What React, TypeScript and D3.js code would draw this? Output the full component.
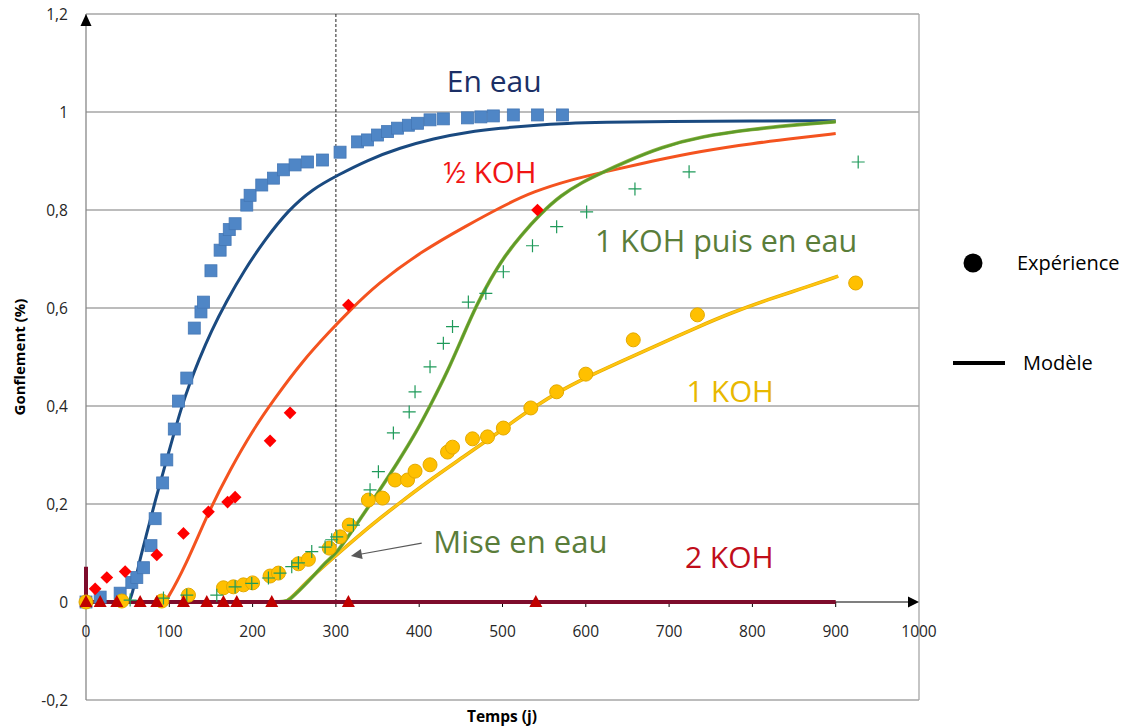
import React from "react";
import * as d3 from "d3";

type P = [number, number];

// Experimental points (x = days, y = swelling %)
const enEauExp: P[] = [
  [0, 0], [17, 0.01], [41, 0.018], [55, 0.04], [61, 0.05], [69, 0.07], [78, 0.115], [83, 0.17],
  [92, 0.243], [97, 0.29], [106, 0.353], [111, 0.41], [121, 0.457], [130, 0.559], [138, 0.592],
  [141, 0.612], [150, 0.676], [161, 0.718], [167, 0.74], [172, 0.76], [179, 0.772], [193, 0.81],
  [197, 0.83], [211, 0.851], [225, 0.865], [237, 0.882], [251, 0.892], [266, 0.898], [284, 0.902],
  [305, 0.918], [326, 0.939], [338, 0.943], [350, 0.953], [362, 0.96], [374, 0.967], [387, 0.973],
  [398, 0.977], [413, 0.984], [429, 0.986], [458, 0.988], [474, 0.99], [489, 0.992], [513, 0.994],
  [542, 0.994], [572, 0.994],
];
const demiKohExp: P[] = [
  [0, 0], [11, 0.027], [25, 0.05], [47, 0.062], [85, 0.096], [117, 0.14], [147, 0.184],
  [170, 0.204], [179, 0.214], [221, 0.329], [245, 0.386], [315, 0.606], [542, 0.8],
];
const unKohPuisEauExp: P[] = [
  [53, 0.004], [93, 0.008], [121, 0.014], [157, 0.014], [179, 0.031], [199, 0.038], [219, 0.049],
  [233, 0.059], [247, 0.072], [255, 0.08], [271, 0.103], [287, 0.112], [295, 0.127], [301, 0.133],
  [321, 0.157], [341, 0.229], [351, 0.266], [369, 0.345], [388, 0.388], [395, 0.429], [413, 0.48],
  [429, 0.528], [440, 0.562], [459, 0.612], [480, 0.63], [501, 0.674], [536, 0.727], [565, 0.766],
  [601, 0.796], [659, 0.843], [724, 0.878], [927, 0.898],
];
const unKohExp: P[] = [
  [0, 0], [43, 0.002], [91, 0.002], [123, 0.014], [165, 0.029], [177, 0.031], [189, 0.035],
  [200, 0.039], [221, 0.053], [231, 0.059], [255, 0.078], [267, 0.087], [292, 0.11], [305, 0.133],
  [316, 0.157], [339, 0.208], [356, 0.212], [371, 0.249], [386, 0.249], [395, 0.267], [413, 0.28],
  [434, 0.306], [440, 0.316], [464, 0.333], [482, 0.337], [501, 0.355], [534, 0.396], [565, 0.429],
  [600, 0.465], [657, 0.535], [734, 0.586], [924, 0.651],
];
const deuxKohExp: P[] = [
  [0, 0], [17, 0], [37, 0], [65, 0], [85, 0], [117, 0], [145, 0], [165, 0], [181, 0], [223, 0],
  [315, 0], [540, 0],
];

// Model curves
const enEauModel: P[] = [
  [0, 0], [48, 0], [52, 0], [56, 0.02], [60, 0.05], [66, 0.095], [73, 0.14], [82, 0.2], [100, 0.31],
  [115, 0.4], [125, 0.448], [135, 0.492], [150, 0.552], [169, 0.615], [190, 0.677], [215, 0.74],
  [243, 0.8], [272, 0.843], [302, 0.871], [338, 0.902], [377, 0.927], [417, 0.946], [458, 0.959],
  [498, 0.967], [537, 0.973], [578, 0.977], [618, 0.979], [700, 0.981], [800, 0.982], [900, 0.982],
];
const demiKohModel: P[] = [
  [93, 0], [96, 0], [120, 0.075], [147, 0.184], [173, 0.27], [200, 0.35], [225, 0.412],
  [260, 0.492], [293, 0.553], [315, 0.592], [350, 0.65], [405, 0.718], [458, 0.769], [498, 0.806],
  [537, 0.838], [585, 0.863], [618, 0.876], [680, 0.9], [738, 0.92], [800, 0.936], [860, 0.948],
  [900, 0.956],
];
const unKohPuisEauModel: P[] = [
  [0, 0], [238, 0], [242, 0], [269, 0.045], [290, 0.086], [300, 0.097], [326, 0.161], [350, 0.222],
  [374, 0.284], [398, 0.351], [413, 0.4], [434, 0.47], [453, 0.545], [470, 0.61], [486, 0.66],
  [501, 0.702], [522, 0.748], [546, 0.793], [570, 0.83], [597, 0.858], [618, 0.875], [650, 0.9],
  [690, 0.928], [738, 0.95], [800, 0.965], [860, 0.975], [900, 0.98],
];
const unKohModel: P[] = [
  [238, 0], [242, 0], [270, 0.05], [300, 0.095], [345, 0.161], [381, 0.208], [413, 0.249],
  [453, 0.296], [494, 0.345], [534, 0.394], [573, 0.435], [614, 0.469], [654, 0.5], [694, 0.53],
  [734, 0.561], [774, 0.59], [820, 0.618], [860, 0.64], [903, 0.665],
];
const deuxKohModel: P[] = [[0, 0.072], [0, 0], [900, 0]];

const xTicks = [0, 100, 200, 300, 400, 500, 600, 700, 800, 900, 1000];
const yTicks = [-0.2, 0, 0.2, 0.4, 0.6, 0.8, 1, 1.2];
const yTickLabels = ["-0,2", "0", "0,2", "0,4", "0,6", "0,8", "1", "1,2"];

const seriesLabels = [
  { text: "En eau", x: 490, y: 1.041, color: "#1b2f66", anchor: "middle", size: 30 },
  { text: "½ KOH", x: 429, y: 0.855, color: "#f01414", anchor: "start", size: 29.5 },
  { text: "1 KOH puis en eau", x: 611, y: 0.714, color: "#5a7d3a", anchor: "start", size: 30.5 },
  { text: "1 KOH", x: 721, y: 0.408, color: "#e8b800", anchor: "start", size: 29.5 },
  { text: "Mise en eau", x: 417, y: 0.1, color: "#5a7d3a", anchor: "start", size: 31 },
  { text: "2 KOH", x: 719, y: 0.069, color: "#c00d1a", anchor: "start", size: 30 },
];
const arrowFrom: P = [403, 0.12];
const arrowTo: P = [318, 0.094];

const FONT = "'Open Sans', 'Noto Sans', sans-serif";

export default function App() {
  const x = d3.scaleLinear().domain([0, 1000]).range([86, 919]);
  const y = d3.scaleLinear().domain([-0.2, 1.2]).range([700, 14]);
  const smooth = d3.line<P>().x((d) => x(d[0])).y((d) => y(d[1])).curve(d3.curveBasis);
  const straight = d3.line<P>().x((d) => x(d[0])).y((d) => y(d[1]));

  const left = x(0), right = x(1000), top = y(1.2), bottom = y(-0.2), zero = y(0);
  const ang = Math.atan2(y(arrowTo[1]) - y(arrowFrom[1]), x(arrowTo[0]) - x(arrowFrom[0]));
  const ax = x(arrowTo[0]), ay = y(arrowTo[1]);
  const ah = 11, aw = 5;
  const arrowHead = [
    [ax, ay],
    [ax - ah * Math.cos(ang) + aw * Math.sin(ang), ay - ah * Math.sin(ang) - aw * Math.cos(ang)],
    [ax - ah * Math.cos(ang) - aw * Math.sin(ang), ay - ah * Math.sin(ang) + aw * Math.cos(ang)],
  ].map((p) => p.join(",")).join(" ");

  return (
    <svg width={1128} height={726} style={{ position: "absolute", left: 0, top: 0, background: "#fff" }} fontFamily={FONT}>
      {/* grid */}
      {yTicks.filter((t) => t !== 0).map((t) => (
        <line key={t} x1={left} x2={right} y1={y(t)} y2={y(t)} stroke="#a6a6a6" strokeWidth={1.3} />
      ))}
      <line x1={right} x2={right} y1={top} y2={bottom} stroke="#a6a6a6" strokeWidth={1.3} />
      <line x1={left} x2={left} y1={top} y2={bottom} stroke="#888" strokeWidth={1.3} />
      {/* dashed t=300 */}
      <line x1={x(300)} x2={x(300)} y1={top} y2={zero} stroke="#222" strokeWidth={1} strokeDasharray="3,2" />
      {/* x axis */}
      <line x1={left} x2={right - 8} y1={zero} y2={zero} stroke="#000" strokeWidth={1.2} />
      {xTicks.slice(0, -1).map((t) => (
        <line key={t} x1={x(t)} x2={x(t)} y1={zero} y2={zero + 5} stroke="#000" strokeWidth={1} />
      ))}
      <polygon points={`${right},${zero} ${right - 11},${zero - 5.5} ${right - 11},${zero + 5.5}`} fill="#000" />
      <polygon points={`${left},${top} ${left - 5.5},${top + 12} ${left + 5.5},${top + 12}`} fill="#000" />
      {/* tick labels */}
      {xTicks.map((t) => (
        <text key={t} x={x(t)} y={zero + 35} textAnchor="middle" fontSize={15.5} fill="#262626">{t}</text>
      ))}
      {yTicks.map((t, i) => (
        <text key={t} x={left - 18} y={y(t) + 5.5} textAnchor="end" fontSize={15.5} fill="#262626">{yTickLabels[i]}</text>
      ))}
      <text x={502} y={722} textAnchor="middle" fontSize={15.5} fontWeight="bold" fill="#000">Temps (j)</text>
      <text transform={`translate(25,${(top + bottom) / 2}) rotate(-90)`} textAnchor="middle" fontSize={15} fontWeight="bold" fill="#000">Gonflement (%)</text>

      {/* models */}
      <path d={smooth(enEauModel) || ""} fill="none" stroke="#1a4a80" strokeWidth={3} />
      <path d={smooth(demiKohModel) || ""} fill="none" stroke="#f4531f" strokeWidth={3} />
      <path d={smooth(unKohModel) || ""} fill="none" stroke="#e6ac00" strokeWidth={3.6} />
      <path d={smooth(unKohModel) || ""} fill="none" stroke="#ffc510" strokeWidth={2.2} />
      <path d={smooth(unKohPuisEauModel) || ""} fill="none" stroke="#8fb040" strokeWidth={3.6} />
      <path d={smooth(unKohPuisEauModel) || ""} fill="none" stroke="#5c9b2a" strokeWidth={2.4} />
      <path d={straight(deuxKohModel) || ""} fill="none" stroke="#7e0c2c" strokeWidth={4} />

      {/* experimental */}
      {enEauExp.map((d, i) => (
        <rect key={"s" + i} x={x(d[0]) - 6} y={y(d[1]) - 6} width={12} height={12} fill="#4f86c6" stroke="#4477b5" strokeWidth={0.8} />
      ))}
      {demiKohExp.map((d, i) => (
        <rect key={"d" + i} x={-4.5} y={-4.5} width={9} height={9} fill="#ff0000"
          transform={`translate(${x(d[0])},${y(d[1])}) rotate(45)`} />
      ))}
      {unKohExp.map((d, i) => (
        <circle key={"c" + i} cx={x(d[0])} cy={y(d[1])} r={7} fill="#ffc000" stroke="#e3a900" strokeWidth={1} />
      ))}
      {unKohPuisEauExp.map((d, i) => (
        <path key={"p" + i} d={`M${x(d[0]) - 6.5},${y(d[1])}h13M${x(d[0])},${y(d[1]) - 6.5}v13`} stroke="#1f9a5a" strokeWidth={1.2} fill="none" />
      ))}
      {deuxKohExp.map((d, i) => (
        <polygon key={"t" + i}
          points={`${x(d[0])},${y(d[1]) - 7} ${x(d[0]) - 6.5},${y(d[1]) + 5} ${x(d[0]) + 6.5},${y(d[1]) + 5}`}
          fill="#c00000" />
      ))}

      {/* annotations */}
      {seriesLabels.map((l) => (
        <text key={l.text} x={x(l.x)} y={y(l.y)} textAnchor={l.anchor as any} fontSize={l.size} fill={l.color}>{l.text}</text>
      ))}
      <line x1={x(arrowFrom[0])} y1={y(arrowFrom[1])} x2={ax - 8 * Math.cos(ang)} y2={ay - 8 * Math.sin(ang)} stroke="#595959" strokeWidth={1.2} />
      <polygon points={arrowHead} fill="#595959" />

      {/* legend */}
      <circle cx={973} cy={263} r={9.5} fill="#000" />
      <text x={1017} y={270} fontSize={20} fill="#000">Expérience</text>
      <line x1={953} x2={1005} y1={363} y2={363} stroke="#000" strokeWidth={4} />
      <text x={1023} y={370} fontSize={20} fill="#000">Modèle</text>
    </svg>
  );
}
